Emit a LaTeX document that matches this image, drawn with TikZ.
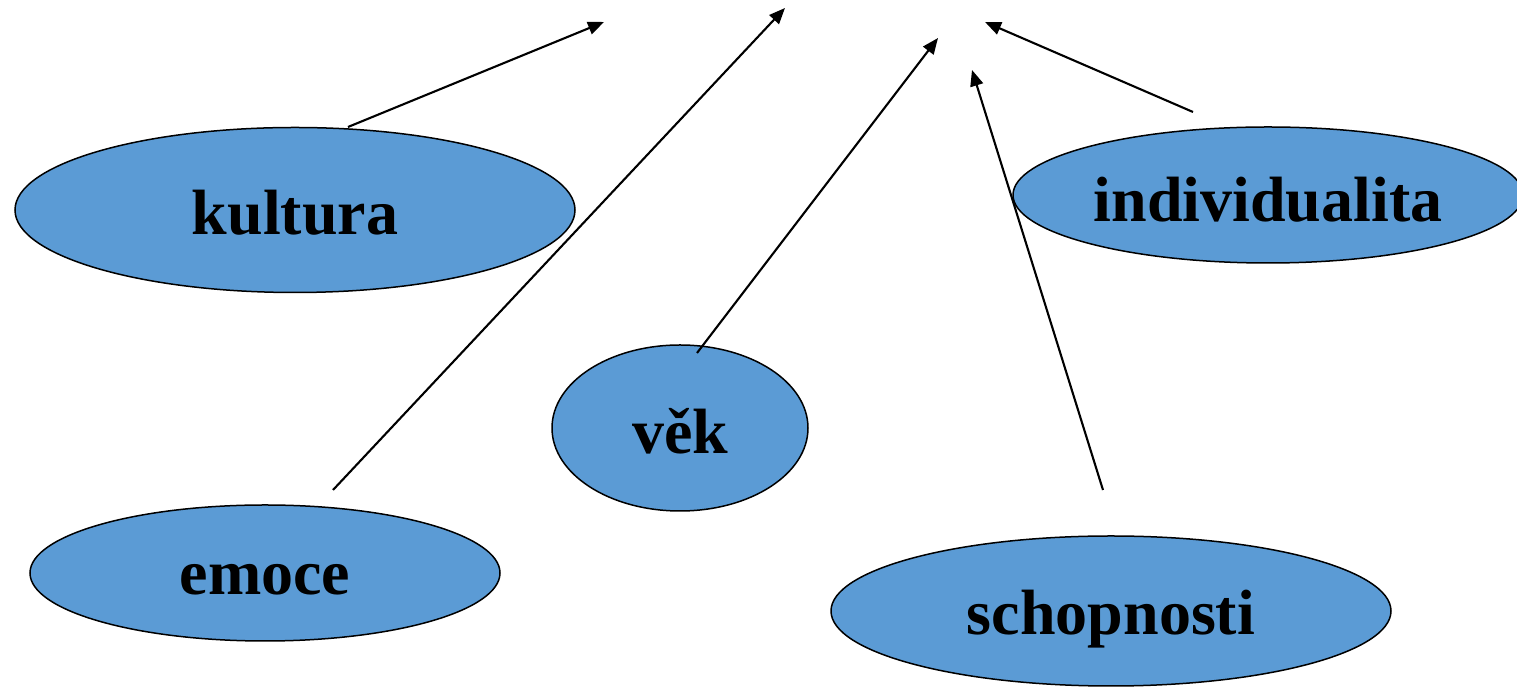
\documentclass[tikz,border=0pt]{standalone}
\usepackage{fontspec}
\setmainfont{Liberation Serif}
\usetikzlibrary{shapes.geometric,arrows.meta}
\definecolor{blobfill}{HTML}{5B9BD5}
\newcommand{\lowtxt}[2][2.5pt]{\raisebox{-#1}[\height][\depth]{#2}}
\begin{document}
\begin{tikzpicture}[x=0.5pt,y=-0.5pt,
  blob/.style={ellipse,draw=black,line width=0.75pt,fill=blobfill,inner sep=0pt,
    font=\fontsize{32}{36}\selectfont\bfseries},
  link/.style={line width=1.05pt,-{Triangle[length=8pt,width=6.5pt]}}]
\useasboundingbox (0,0) rectangle (1517,688);
\node[blob,minimum width=280pt,minimum height=82.5pt] (kultura) at (295,210) {\lowtxt[1.5pt]{kultura}};
\node[blob,minimum width=255pt,minimum height=68pt] (indiv) at (1268,195) {\lowtxt{individualita}};
\node[blob,minimum width=128pt,minimum height=83pt] (vek) at (680,428) {\lowtxt[1.5pt]{věk}};
\node[blob,minimum width=235pt,minimum height=68pt] (emoce) at (265,573) {\lowtxt[3.5pt]{emoce}};
\node[blob,minimum width=280pt,minimum height=75pt] (schop) at (1111,611) {\lowtxt[4pt]{schopnosti}};
\coordinate (kS) at (348,127);
\coordinate (kE) at (604,22);
\coordinate (eS) at (333,490);
\coordinate (eE) at (785,8);
\coordinate (vS) at (697,353);
\coordinate (vE) at (938,38);
\coordinate (sS) at (1103,490);
\coordinate (sE) at (972,70);
\coordinate (iS) at (1193,112);
\coordinate (iE) at (985,22);
\draw[link] (kS) -- (kE);
\draw[link] (eS) -- (eE);
\draw[link] (vS) -- (vE);
\draw[link] (sS) -- (sE);
\draw[link] (iS) -- (iE);
\end{tikzpicture}
\end{document}
